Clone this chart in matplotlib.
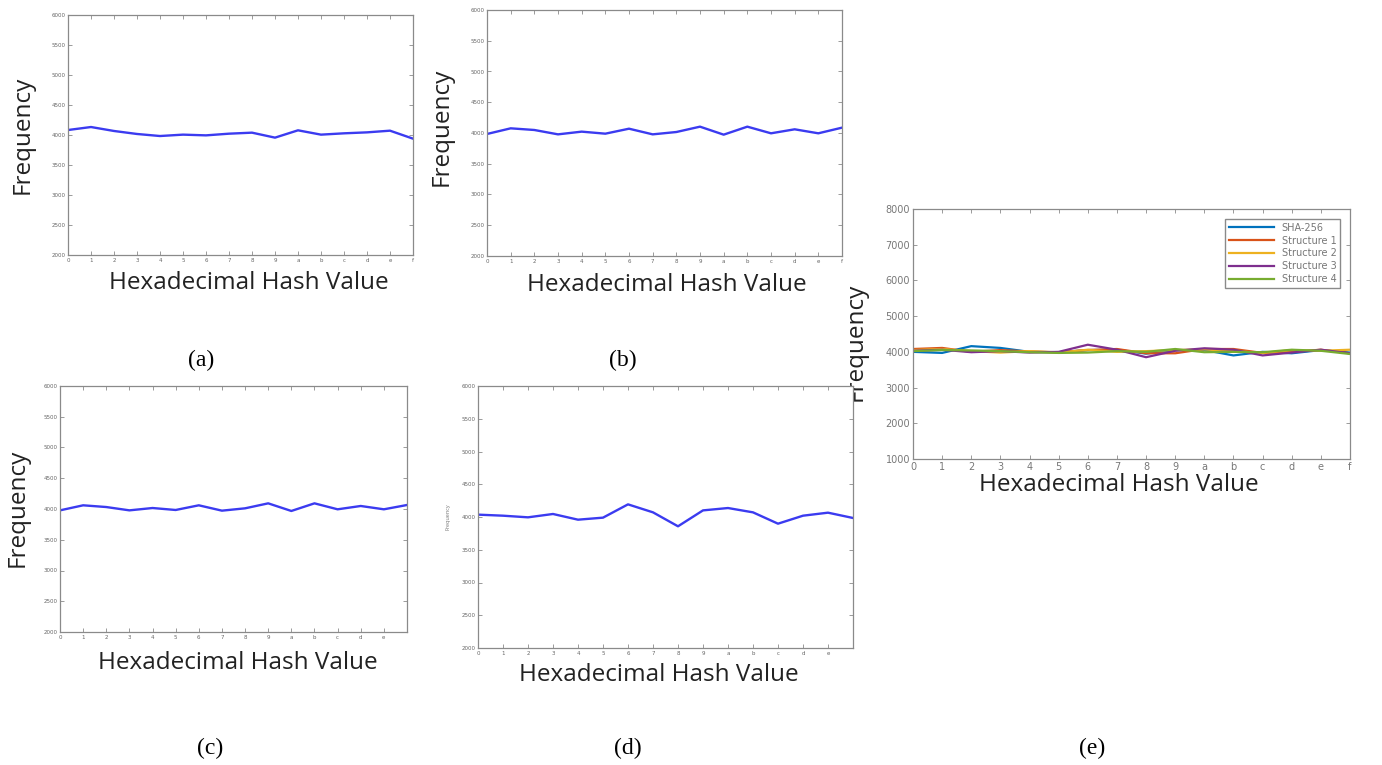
import matplotlib
matplotlib.use("Agg")
import matplotlib.pyplot as plt

# hex digits on the x axis
hex_labels = ['0', '1', '2', '3', '4', '5', '6', '7', '8', '9', 'a', 'b', 'c', 'd', 'e', 'f']
xs = list(range(16))

# frequency values
freq_a = [4083, 4133, 4067, 4017, 3983, 4006, 3994, 4022, 4039, 3956, 4078, 4006, 4028, 4044, 4072, 3939]
freq_b = [3984, 4076, 4049, 3978, 4022, 3989, 4070, 3978, 4016, 4103, 3973, 4103, 3995, 4060, 3995, 4087]
freq_c = [3978, 4060, 4032, 3978, 4016, 3984, 4060, 3973, 4011, 4092, 3968, 4092, 3995, 4049, 3995, 4065]
freq_d = [4036, 4020, 3995, 4046, 3959, 3990, 4193, 4071, 3858, 4101, 4137, 4071, 3898, 4020, 4066, 3985]

# panel (e): comparison of all structures
sha256 = [4000, 3970, 4160, 4110, 4000, 3990, 4050, 4060, 3950, 4050, 4050, 3900, 4000, 3960, 4050, 3980]
struct1 = [4080, 4110, 4000, 4050, 4010, 3990, 4050, 4080, 3960, 3960, 4080, 4080, 3970, 4000, 4060, 3960]
struct2 = [4050, 4080, 4020, 3980, 4020, 3980, 4060, 4000, 4020, 4050, 4070, 4020, 3970, 4050, 4030, 4060]
struct3 = [4030, 4060, 3990, 4020, 3980, 4000, 4200, 4060, 3850, 4030, 4100, 4060, 3900, 3980, 4060, 3960]
struct4 = [4020, 4050, 4040, 4020, 3990, 3970, 3980, 4020, 4000, 4080, 3990, 4000, 3990, 4060, 4030, 3940]
e_names = ['SHA-256', 'Structure 1', 'Structure 2', 'Structure 3', 'Structure 4']
e_colors = ['#0072BD', '#D95319', '#EDB120', '#7E2F8E', '#77AC30']

W, H = 1382, 765
fig = plt.figure(figsize=(W / 100, H / 100), dpi=100)


def box(left, top, right, bottom):
    # pixel box -> figure fraction
    return [left / W, 1 - bottom / H, (right - left) / W, (bottom - top) / H]


def style(ax, size, col):
    for s in ax.spines.values():
        s.set_color('#8a8a8a')
        s.set_linewidth(0.9)
    ax.tick_params(direction='in', length=3, width=0.6, top=True, right=True,
                   labelsize=size, colors='#8a8a8a', labelcolor=col, pad=2)


label_font = 'Open Sans'
blue = '#3b3bf0'

panels = [
    (freq_a, (68, 15, 413, 255), hex_labels),
    (freq_b, (487, 10, 842, 256), hex_labels),
    (freq_c, (60, 386, 407, 632), hex_labels[:-1] + ['']),
    (freq_d, (478, 386, 853, 648), hex_labels[:-1] + ['']),
]
for vals, pos, labs in panels:
    ax = fig.add_axes(box(*pos))
    ax.plot(xs, vals, color=blue, lw=1.7)
    ax.set_xlim(0, 15)
    ax.set_ylim(2000, 6000)
    ax.set_xticks(xs)
    ax.set_xticklabels(labs)
    ax.set_yticks(range(2000, 6001, 500))
    style(ax, 4, '#666666')

# panel (e)
ax = fig.add_axes(box(913, 209, 1350, 459))
for vals, name, c in zip([sha256, struct1, struct2, struct3, struct4], e_names, e_colors):
    ax.plot(xs, vals, color=c, lw=1.6, label=name)
ax.set_xlim(0, 15)
ax.set_ylim(1000, 8000)
ax.set_xticks(xs)
ax.set_xticklabels(hex_labels)
ax.set_yticks(range(1000, 8001, 1000))
style(ax, 7, '#777777')
leg = ax.legend(loc='upper right', fontsize=7, handlelength=4.6, labelspacing=0.3,
                borderaxespad=1.0, fancybox=False, framealpha=1)
leg.get_frame().set_edgecolor('#8a8a8a')
for t in leg.get_texts():
    t.set_color('#777777')

# axis labels as figure text
def ftext(x, y, s, **kw):
    fig.text(x / W, 1 - y / H, s, ha='center', va='center', **kw)

for x, y in [(249, 283), (667, 285), (238, 663), (659, 675), (1119, 485)]:
    ftext(x, y, 'Hexadecimal Hash Value', fontsize=17.5, family=label_font, color='#222222')
for x, y in [(23, 135), (442, 127), (18, 508)]:
    ftext(x, y, 'Frequency', fontsize=17.5, family=label_font, color='#222222', rotation=90)
ftext(448, 517, 'Frequency', fontsize=4, family=label_font, color='#777777', rotation=90)
# panel (e) label partly hidden behind panel (d)
ftext(856, 342, 'Frequency', fontsize=17.5, family=label_font, color='#222222', rotation=90, zorder=-1)

# captions
for x, y, s in [(201, 360, '(a)'), (623, 360, '(b)'), (210, 748, '(c)'), (628, 748, '(d)'), (1092, 748, '(e)')]:
    ftext(x, y, s, fontsize=17, family='Liberation Serif', color='black')

fig.savefig('out.png', dpi=100, facecolor='white')
